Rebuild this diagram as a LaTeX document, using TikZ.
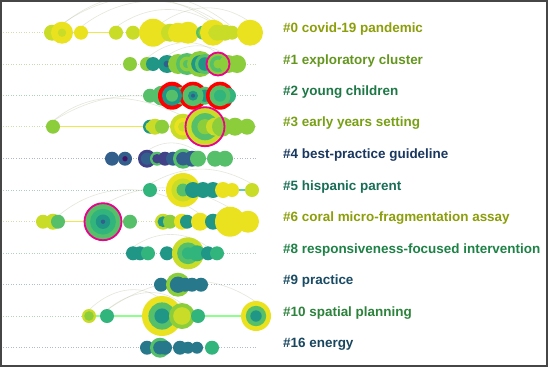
\documentclass[tikz,border=0pt]{standalone}
\usepackage{fontspec}
\setmainfont{Liberation Sans}
\begin{document}
\begin{tikzpicture}[x=1pt,y=1pt,
  bub/.style={circle,inner sep=0pt,draw=none},
  lab/.style={anchor=base west,inner sep=0pt,font=\fontsize{13.45}{15}\selectfont\bfseries},
  rowline/.style={dash pattern=on 1pt off 1.6pt,line width=0.8pt},
  arcl/.style={draw={rgb,255:red,190;green,195;blue,165},line width=0.6pt,opacity=0.4},
  hl/.style={draw=magenta,line width=1.8pt},
  burst/.style={draw=red,line width=3.6pt}]
\definecolor{Y}{RGB}{234,226,30}
\definecolor{YG}{RGB}{200,220,40}
\definecolor{L}{RGB}{140,205,60}
\definecolor{G}{RGB}{85,192,105}
\definecolor{GT}{RGB}{50,180,125}
\definecolor{T}{RGB}{32,150,135}
\definecolor{TB}{RGB}{40,120,140}
\definecolor{B}{RGB}{50,95,140}
\definecolor{I}{RGB}{65,65,135}
\definecolor{P}{RGB}{70,20,100}
\definecolor{c0}{RGB}{140,158,10}
\definecolor{c1}{RGB}{100,150,30}
\definecolor{c2}{RGB}{30,120,70}
\definecolor{c3}{RGB}{120,160,20}
\definecolor{c4}{RGB}{25,55,95}
\definecolor{c5}{RGB}{25,110,85}
\definecolor{c6}{RGB}{140,158,10}
\definecolor{c8}{RGB}{30,130,70}
\definecolor{c9}{RGB}{25,75,100}
\definecolor{c10}{RGB}{45,130,60}
\definecolor{c16}{RGB}{25,70,95}
\definecolor{frame}{RGB}{70,70,70}
\newcommand{\bubrow}[3]{\foreach \x/\r/\ca/\cb/\cc [count=\k] in {#3} {
  \node[bub,minimum size={2*\r},fill=\ca] (#1n\k) at (\x,#2) {};
  \fill[\cb] (\x,#2) circle ({0.68*\r});
  \fill[\cc] (\x,#2) circle ({0.38*\r});}}
\useasboundingbox (0,-367) rectangle (548,0);
\fill[white] (0,-367) rectangle (548,0);
% row lines
\foreach \c/\y in {c0/-32.7,c1/-64,c2/-95.7,c3/-126.7,c4/-158.7,c5/-190,c6/-221.7,c8/-253.3,c9/-284.7,c10/-316,c16/-347.7}
  \draw[rowline,\c!35] (3,\y) -- (256,\y);
% coloured spans
\draw[line width=1.4pt,Y!80] (81,-32.7) -- (116,-32.7);
\draw[line width=1.4pt,Y!80] (53,-126.7) -- (150,-126.7);
\draw[line width=1.4pt,cyan!45!green!60] (232,-190) -- (252,-190);
\draw[line width=1.4pt,Y!80] (58,-221.7) -- (135,-221.7);
\draw[line width=1.4pt,green!45] (89,-316) -- (256,-316);
% citation arcs
\draw[arcl] (62,-25) to[out=40,in=140] (232,-27);
\draw[arcl] (81,-27) to[out=38,in=142] (225,-27);
\draw[arcl] (62,-24) to[out=35,in=145] (213,-22);
\draw[arcl] (160,-24) to[out=35,in=145] (250,-22);
\draw[arcl] (116,-27) to[out=35,in=145] (217,-26);
\draw[arcl] (147,-58) to[out=40,in=140] (218,-54);
\draw[arcl] (167,-56) to[out=35,in=145] (228,-56);
\draw[arcl] (53,-121) to[out=40,in=155] (183,-116);
\draw[arcl] (53,-121) to[out=32,in=160] (205,-110);
\draw[arcl] (147,-151) to[out=35,in=145] (198,-152);
\draw[arcl] (150,-184) to[out=30,in=150] (252,-184);
\draw[arcl] (58,-216) to[out=40,in=145] (200,-214);
\draw[arcl] (103,-205) to[out=30,in=150] (230,-208);
\draw[arcl] (133,-247) to[out=35,in=145] (208,-247);
\draw[arcl] (89,-310) to[out=45,in=140] (162,-300);
\draw[arcl] (107,-310) to[out=35,in=145] (256,-302);
\draw[arcl] (107,-310) to[out=40,in=140] (182,-304);
% bubbles
\bubrow{a}{-32.7}{52/8/YG/YG/YG,62/11/Y/Y/YG,81/7/Y/Y/Y,116/7/YG/YG/YG,133/7/YG/YG/YG,153/14/Y/Y/Y,160/10/Y/Y/Y,170/9/YG/YG/YG,178/10/Y/Y/Y,188/11/Y/Y/Y,203/7/G/L/L,213/13/Y/Y/YG,217/8/YG/YG/YG,225/8/YG/YG/YG,232/7/YG/YG/YG,250/13/Y/Y/Y}
\bubrow{b}{-64}{130/7/L/L/L,147/7/L/L/L,153/7/T/T/T,167/9/T/T/B,178/10/L/L/L,187/11/G/L/G,200/13/L/T/G,205/10/G/T/T,218/12/L/G/L,228/9/L/L/L,237/9/L/L/L}
\bubrow{c}{-95.7}{150/7/G/G/G,162/10/G/G/G,172/14/red/red/red,182/9/G/G/G,193/14/red/red/red,205/9/G/T/T,220/14/red/red/red,228/8/GT/GT/GT}
\fill[T] (cn3.center) circle (10); \fill[G] (cn3.center) circle (6);
\fill[G] (cn5.center) circle (10.5); \fill[T] (cn5.center) circle (5); \fill[B] (cn5.center) circle (2);
\fill[G] (cn7.center) circle (10.5); \fill[GT] (cn7.center) circle (6);
\bubrow{d}{-126.7}{53/7/L/L/L,150/7/T/YG/YG,155/8/YG/YG/YG,162/7/L/L/L,183/13/YG/Y/YG,205/20/YG/G/L,215/9/YG/YG/YG,222/10/L/L/L,235/9/L/L/L,247/8/L/L/L}
\bubrow{e}{-158.7}{112/7/B/B/B,125/7/B/B/P,147/9/I/B/B,157/7/G/I/I,165/7/I/I/I,173/7/B/B/B,183/10/G/B/B,192/8/B/B/B,198/8/G/G/G,215/8/G/G/G,225/8/G/G/G}
\bubrow{f}{-190}{150/7/GT/GT/GT,183/17/Y/YG/G,193/8/T/T/T,203/8/T/T/T,213/8/T/T/T,223/8/Y/Y/Y,232/7/Y/Y/Y,252/7/YG/YG/YG}
\bubrow{g}{-221.7}{43/7/YG/YG/YG,53/8/YG/YG/YG,58/7/G/G/G,103/19/G/GT/T,130/7/G/G/G,163/8/YG/T/T,170/7/L/L/L,182/8/Y/Y/Y,187/7/T/T/T,200/9/Y/Y/Y,213/8/T/T/T,230/15/Y/Y/Y,248/11/Y/Y/Y}
\fill[B] (gn4.center) circle (2.2);
\bubrow{h}{-253.3}{133/7/T/T/T,140/7/T/T/T,148/7/GT/GT/GT,167/7/T/T/T,188/16/YG/G/GT,197/8/GT/GT/GT,208/7/T/T/T,217/7/GT/GT/GT}
\bubrow{i}{-284.7}{161/7/TB/TB/TB,178/12/L/TB/TB,185/7/TB/TB/TB,192/7/TB/TB/TB,201/7/TB/TB/TB}
\bubrow{j}{-316}{89/7/YG/L/L,107/7/GT/GT/GT,162/20/Y/G/T,182/13/L/YG/YG,198/7/GT/GT/GT,256/15/Y/G/T}
\bubrow{k}{-347.7}{147/7/TB/TB/TB,160/10/G/TB/TB,165/7/TB/TB/TB,180/7/TB/TB/TB,188/6/TB/TB/TB,197/6/TB/TB/TB,212/7/GT/GT/GT}
% highlight rings
\draw[hl] (bn9.center) circle (11.5);
\draw[hl] (dn6.center) circle (19.5);
\draw[hl] (gn4.center) circle (18.5);
% labels
\node[lab,c0] (l0) at (283,-32.7) {\#0 covid-19 pandemic};
\node[lab,c1] (l1) at (283,-64) {\#1 exploratory cluster};
\node[lab,c2] (l2) at (283,-95.7) {\#2 young children};
\node[lab,c3] (l3) at (283,-126.7) {\#3 early years setting};
\node[lab,c4] (l4) at (283,-158.7) {\#4 best-practice guideline};
\node[lab,c5] (l5) at (283,-190) {\#5 hispanic parent};
\node[lab,c6] (l6) at (283,-221.7) {\#6 coral micro-fragmentation assay};
\node[lab,c8] (l8) at (283,-253.3) {\#8 responsiveness-focused intervention};
\node[lab,c9] (l9) at (283,-284.7) {\#9 practice};
\node[lab,c10] (l10) at (283,-316) {\#10 spatial planning};
\node[lab,c16] (l16) at (283,-347.7) {\#16 energy};
% frame
\draw[frame,line width=2pt] (1,-366) rectangle (547,-1);
\end{tikzpicture}
\end{document}
